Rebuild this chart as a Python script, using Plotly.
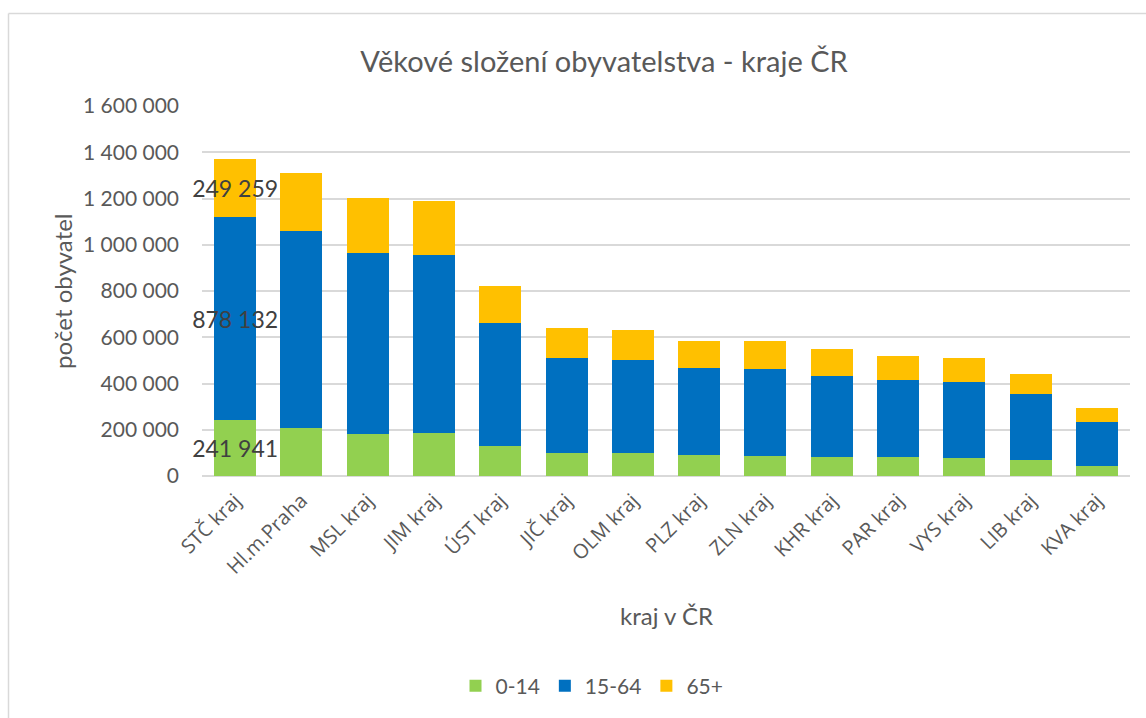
import plotly.graph_objects as go

categories = ["STČ kraj", "Hl.m.Praha", "MSL kraj", "JIM kraj", "ÚST kraj", "JIČ kraj", "OLM kraj",
              "PLZ kraj", "ZLN kraj", "KHR kraj", "PAR kraj", "VYS kraj", "LIB kraj", "KVA kraj"]
age_0_14 = [241941, 207500, 182000, 187000, 131000, 101000, 98000, 91000, 87000, 84000, 81000, 77000, 70000, 44000]
age_15_64 = [878132, 852000, 784000, 767000, 532000, 411000, 405000, 376000, 376000, 350000, 336000, 329000, 283000, 191000]
age_65 = [249259, 249000, 238000, 234000, 158000, 129000, 128000, 117000, 119000, 117000, 102000, 103000, 89000, 60000]
series_names = ["0-14", "15-64", "65+"]
colors = ["#92D050", "#0070C0", "#FFC000"]
y_ticks = [0, 200000, 400000, 600000, 800000, 1000000, 1200000, 1400000, 1600000]

def fmt(v):
    return f"{v:,}".replace(",", " ")

def labels(vals):
    return [fmt(vals[0])] + [""] * (len(vals) - 1)

fig = go.Figure()
for name, vals, col in zip(series_names, [age_0_14, age_15_64, age_65], colors):
    fig.add_trace(go.Bar(
        x=categories, y=vals, name=name, marker=dict(color=col, line=dict(width=0)),
        text=labels(vals), textposition="inside", insidetextanchor="middle",
        constraintext="none", textangle=0, cliponaxis=False,
        insidetextfont=dict(family="Lato", size=23, color="#404040"),
        hoverinfo="x+y+name",
    ))

W, H = 1146, 718
L, R, T, B = 202, 16, 106, 242
pw, ph = W - L - R, H - T - B

def px(x):
    return (x - L) / pw

def py(y):
    return (H - B - y) / ph

fig.update_layout(
    width=W, height=H, barmode="stack", bargap=0.367,
    margin=dict(l=L, r=R, t=T, b=B, autoexpand=False),
    paper_bgcolor="white", plot_bgcolor="white",
    font=dict(family="Lato", color="#595959"),
    separators=", ",
    title=dict(text="Věkové složení obyvatelstva - kraje ČR", x=604 / W, xanchor="center", xref="container",
               y=1 - 62 / H, yanchor="middle", font=dict(family="Lato", size=29, color="#595959")),
    legend=dict(orientation="h", x=px(592), xanchor="center", y=py(686), yanchor="middle",
                font=dict(family="Lato", size=21, color="#595959"), traceorder="normal"),
    xaxis=dict(tickangle=-45, tickfont=dict(family="Open Sans", size=20, color="#595959"),
               showgrid=False, showline=False, ticks="", ticklabelstandoff=8),
    yaxis=dict(range=[0, 1600000], tickvals=y_ticks, ticktext=[fmt(v) for v in y_ticks],
               tickfont=dict(family="Lato", size=21, color="#595959"),
               showgrid=True, gridcolor="#D9D9D9", gridwidth=1.5,
               zeroline=True, zerolinecolor="#D9D9D9", zerolinewidth=1.5,
               ticklabelstandoff=22, showline=False),
    annotations=[
        dict(text="počet obyvatel", xref="paper", yref="paper", x=px(62), y=py(291),
             textangle=-90, showarrow=False, font=dict(family="Lato", size=24, color="#595959"),
             xanchor="center", yanchor="middle"),
        dict(text="kraj v ČR", xref="paper", yref="paper", x=px(666), y=py(615),
             showarrow=False, font=dict(family="Lato", size=24, color="#595959"),
             xanchor="center", yanchor="middle"),
    ],
    shapes=[
        dict(type="line", xref="paper", yref="paper", x0=px(8.5), x1=px(8.5), y0=py(H + 5), y1=py(13.5),
             line=dict(color="#D9D9D9", width=1.5)),
        dict(type="line", xref="paper", yref="paper", x0=px(8.5), x1=px(W + 5), y0=py(13.5), y1=py(13.5),
             line=dict(color="#D9D9D9", width=1.5)),
    ],
)

fig.write_html("out.html", config={"displayModeBar": False},
               post_script="document.body.style.margin='0';document.body.style.overflow='hidden';")
